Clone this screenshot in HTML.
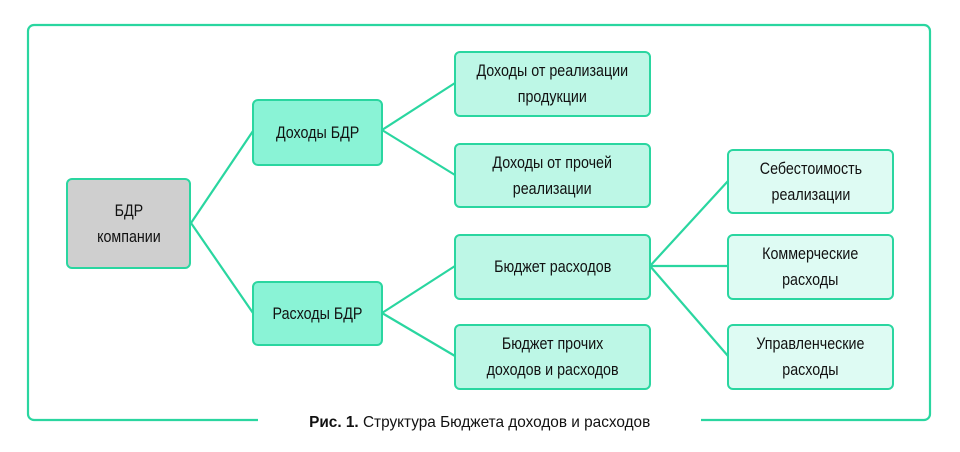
<!DOCTYPE html>
<html><head><meta charset="utf-8"><style>
body{margin:0;width:960px;height:452px;background:#fff;overflow:hidden;position:relative;font-family:"Liberation Sans",sans-serif}
.b{position:absolute;box-sizing:border-box;border:2.5px solid #2ad6a0;border-radius:6px;display:flex;align-items:center;justify-content:center;text-align:center;color:#111;font-size:17px;line-height:26px}
.b span{display:inline-block;transform:scaleX(.84);white-space:nowrap}
.l1{background:#8af3d6}.l2{background:#bdf7e6}.l3{background:#defbf3}
svg{position:absolute;left:0;top:0}
.cap{position:absolute;left:200px;width:560px;top:414px;text-align:center;font-size:16px;color:#111}
.cap span{display:inline-block;transform:scaleX(.96);white-space:nowrap}
</style></head><body>
<svg width="960" height="452">
<g fill="none" stroke="#2ad6a0" stroke-width="2.2">
<path d="M258 420 H34 a6 6 0 0 1 -6 -6 V31 a6 6 0 0 1 6 -6 H924 a6 6 0 0 1 6 6 V414 a6 6 0 0 1 -6 6 H701"/>
<path d="M191 223 L253 131 M191 223 L253 313"/>
<path d="M382 130 L455 83 M382 130 L455 175"/>
<path d="M382 313 L455 266 M382 313 L455 356"/>
<path d="M650 266 L728 181 M650 266 L728 266 M650 266 L728 356"/>
</g></svg>
<div class="b" style="left:66px;top:178px;width:125px;height:91px;background:#cfcfcf"><span>БДР<br>компании</span></div>
<div class="b l1" style="left:252px;top:99px;width:131px;height:67px"><span>Доходы БДР</span></div>
<div class="b l1" style="left:252px;top:281px;width:131px;height:65px"><span>Расходы БДР</span></div>
<div class="b l2" style="left:454px;top:51px;width:197px;height:66px"><span>Доходы от реализации<br>продукции</span></div>
<div class="b l2" style="left:454px;top:143px;width:197px;height:65px"><span>Доходы от прочей<br>реализации</span></div>
<div class="b l2" style="left:454px;top:234px;width:197px;height:66px"><span>Бюджет расходов</span></div>
<div class="b l2" style="left:454px;top:324px;width:197px;height:66px"><span>Бюджет прочих<br>доходов и расходов</span></div>
<div class="b l3" style="left:727px;top:149px;width:167px;height:65px"><span>Себестоимость<br>реализации</span></div>
<div class="b l3" style="left:727px;top:234px;width:167px;height:66px"><span>Коммерческие<br>расходы</span></div>
<div class="b l3" style="left:727px;top:324px;width:167px;height:66px"><span>Управленческие<br>расходы</span></div>
<div class="cap"><span><b>Рис. 1.</b> Структура Бюджета доходов и расходов</span></div>
</body></html>
